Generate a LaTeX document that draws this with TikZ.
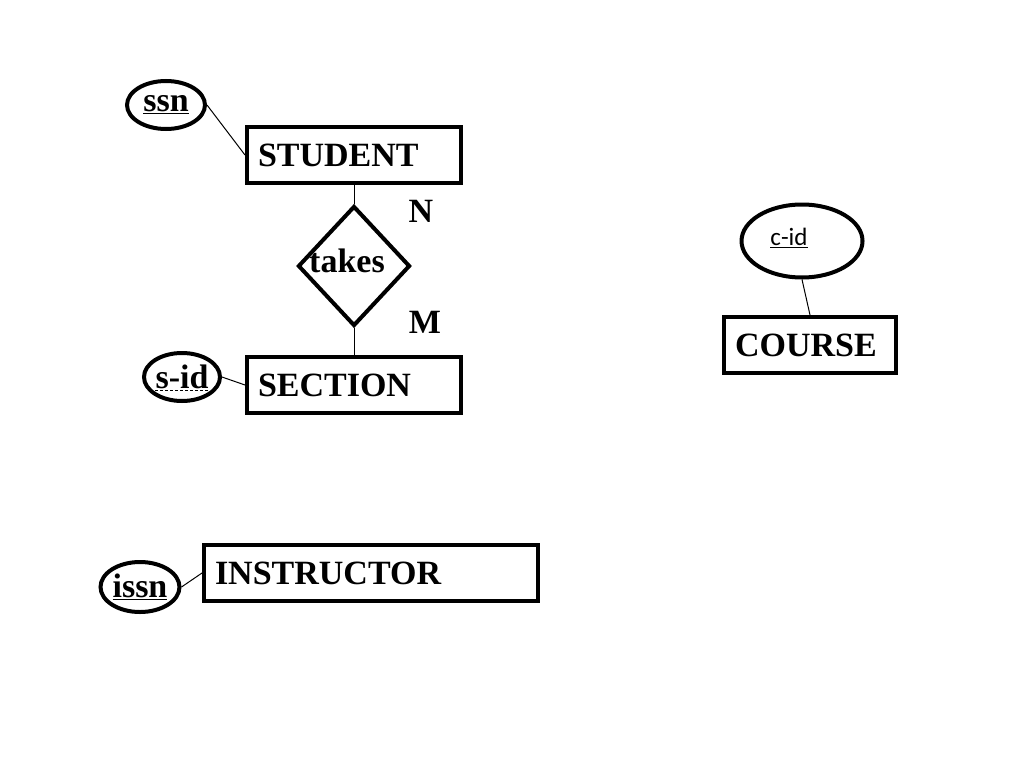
\documentclass[tikz,border=0pt]{standalone}
\usepackage{fontspec}
\setmainfont{Liberation Serif}
\newfontfamily\calibri{Carlito}
\usetikzlibrary{shapes.geometric, calc}

\begin{document}
\begin{tikzpicture}[
  x=1pt, y=-1pt,
  font=\fontsize{34}{38}\selectfont\bfseries,
  entity/.style={rectangle, draw, line width=4pt, minimum height=56pt, inner xsep=11pt, align=left},
  attr/.style={ellipse, draw, line width=4pt, inner sep=0pt},
  rel/.style={diamond, draw, line width=4pt, inner sep=0pt, minimum width=112pt, minimum height=120pt},
  conn/.style={line width=1pt},
]
\useasboundingbox (0,0) rectangle (1024,768);

\node[entity, text width=192pt] (student) at (354,155) {STUDENT};
\node[entity, text width=192pt] (section) at (354,385) {SECTION};
\node[entity, text width=150pt] (course) at (810,345) {COURSE};
\node[entity, text width=312pt] (instructor) at (371,573) {INSTRUCTOR};

\node[rel] (takes) at (354,266) {};
\node (takeslbl) at (347,261) {takes};
\node (nlbl) at (421,211) {N};
\node (mlbl) at (425,322) {M};

\node[attr, minimum width=78pt, minimum height=48pt] (ssn) at (166,105) {\underline{ssn}};
\node[attr, minimum width=76pt, minimum height=48pt] (sid) at (182,377) {s-id};
\node[attr, minimum width=121pt, minimum height=73pt] (cid) at (802,241) {};
\node[font=\fontsize{25}{28}\selectfont\calibri] (cidlbl) at (789,238) {\underline{c-id}};
\node[attr, minimum width=79pt, minimum height=50pt] (issn) at (140,587) {\underline{issn}};

% dashed key underline
\draw[line width=1pt, dash pattern=on 3pt off 2pt] ($(sid.center)+(-27,13)$) -- ($(sid.center)+(27,13)$);

\draw[conn] (student.south) -- (takes.north);
\draw[conn] (takes.south) -- (section.north);
\draw[conn] (ssn.east) -- (student.west);
\draw[conn] (sid.east) -- (section.west);
\draw[conn] (cid.south) -- (course.north);
\draw[conn] (issn.east) -- (instructor.west);
\end{tikzpicture}
\end{document}
